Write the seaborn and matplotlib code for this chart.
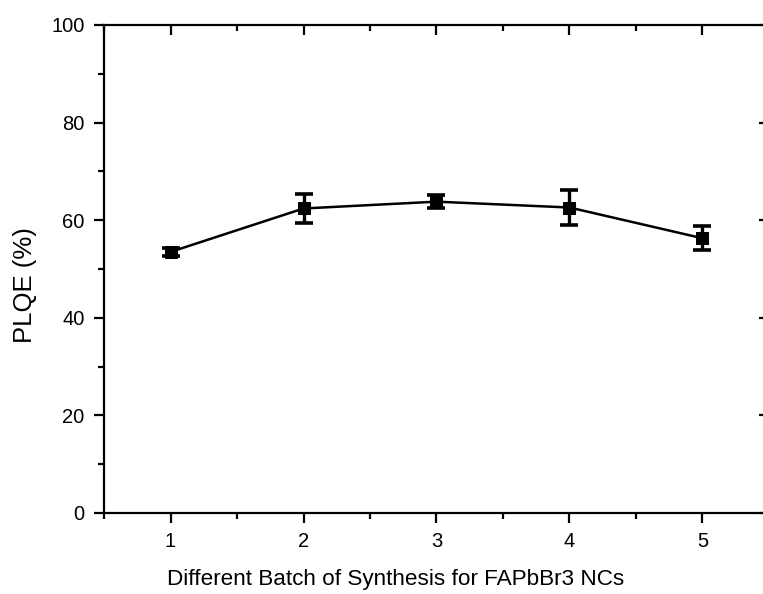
import matplotlib
matplotlib.use("Agg")
import matplotlib.pyplot as plt
import seaborn as sns
import pandas as pd
from matplotlib.ticker import MultipleLocator

batch = [1, 2, 3, 4, 5]
plqe = [53.5, 62.4, 63.8, 62.6, 56.3]
plqe_err = [0.9, 3.0, 1.3, 3.5, 2.5]

df = pd.DataFrame({"batch": batch, "plqe": plqe, "err": plqe_err})

sns.set_style("ticks")
plt.rcParams["font.family"] = ["Liberation Sans", "DejaVu Sans"]
plt.rcParams["text.color"] = "black"
plt.rcParams["axes.labelcolor"] = "black"

fig = plt.figure(figsize=(7.63, 5.94), dpi=100)
ax = fig.add_axes([104/763, 81/594, (769-104)/763, (513-25)/594])

sns.lineplot(data=df, x="batch", y="plqe", ax=ax, color="black", linewidth=1.8,
             marker="s", markersize=9, markeredgecolor="black", zorder=3)
ax.errorbar(df["batch"], df["plqe"], yerr=df["err"], fmt="none", ecolor="black",
            elinewidth=2.4, capsize=6.5, capthick=2.6, zorder=4)

ax.set_xlim(0.5, 5.5)
ax.set_ylim(0, 100)
ax.set_xticks(batch)
ax.set_yticks([0, 20, 40, 60, 80, 100])
ax.xaxis.set_minor_locator(MultipleLocator(0.5))
ax.yaxis.set_minor_locator(MultipleLocator(10))

for s in ax.spines.values():
    s.set_linewidth(1.6)
    s.set_color("black")

ax.tick_params(axis="both", which="major", direction="out", length=7, width=1.6,
               labelsize=14.5, colors="black", pad=7)
ax.tick_params(axis="both", which="minor", direction="out", length=4, width=1.6,
               colors="black")
ax.tick_params(axis="both", which="both", top=True, right=True)
# top/right ticks point inward
for t in ax.xaxis.get_major_ticks() + ax.xaxis.get_minor_ticks():
    t.tick2line.set_marker(matplotlib.lines.TICKDOWN)
for t in ax.yaxis.get_major_ticks() + ax.yaxis.get_minor_ticks():
    t.tick2line.set_marker(matplotlib.lines.TICKLEFT)

ax.set_xlabel("Different Batch of Synthesis for FAPbBr3 NCs", fontsize=16.2,
              labelpad=13, color="black")
ax.set_ylabel("PLQE (%)", fontsize=18.5, labelpad=10, color="black")
ax.xaxis.label.set_x((396 - 104) / 665)
ax.yaxis.label.set_y((513 - 285) / 488)

fig.savefig("out.png", dpi=100)
